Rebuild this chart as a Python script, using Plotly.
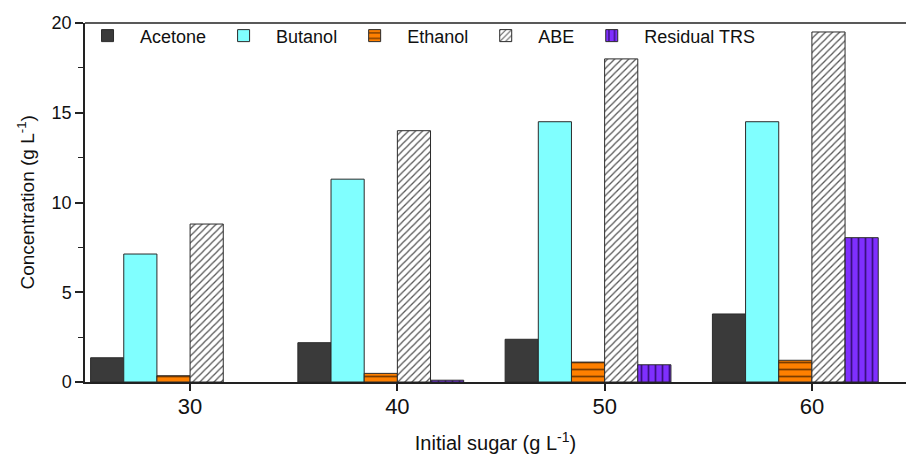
import plotly.graph_objects as go

sugar = [30, 40, 50, 60]
acetone = [1.35, 2.19, 2.38, 3.79]
butanol = [7.13, 11.3, 14.5, 14.5]
ethanol = [0.35, 0.48, 1.11, 1.21]
abe = [8.8, 14.0, 18.0, 19.5]
residual_trs = [None, 0.1, 0.96, 8.04]

series = [
    ("Acetone", acetone, "#3a3a3a", "", "#3a3a3a"),
    ("Butanol", butanol, "#80ffff", "", "#80ffff"),
    ("Ethanol", ethanol, "#ff8000", "-", "#7a3c00"),
    ("ABE", abe, "#ffffff", "/", "#555555"),
    ("Residual TRS", residual_trs, "#7f2fff", "|", "#3a1080"),
]

w = 1.6
fig = go.Figure()
for i, (name, vals, col, shape, fg) in enumerate(series):
    pattern = dict(shape=shape)
    if shape:
        pattern = dict(shape=shape, fillmode="replace", bgcolor=col, fgcolor=fg,
                       size=7 if shape != "/" else 5, solidity=0.25)
    fig.add_trace(go.Bar(
        x=sugar, y=vals, name=name, width=w, offset=(i - 3) * w,
        marker=dict(color=col, line=dict(color="#2b2b2b", width=1), pattern=pattern),
    ))

font = "Liberation Sans, Arial, sans-serif"
fig.add_shape(type="line", xref="paper", yref="paper", x0=0, x1=1, y0=1, y1=1,
              line=dict(color="#222", width=1.5))
fig.add_annotation(text="Concentration (g L<sup>-1</sup>)", textangle=-90,
                   xref="paper", yref="paper", x=-0.073, y=0.5,
                   xanchor="center", yanchor="middle", showarrow=False,
                   font=dict(size=19, family=font, color="#111"))
fig.update_layout(
    width=906, height=454,
    margin=dict(l=85, r=0, t=23, b=72, autoexpand=False),
    barmode="overlay",
    plot_bgcolor="white", paper_bgcolor="white",
    font=dict(family=font, color="#111"),
    showlegend=True,
    legend=dict(orientation="h", xref="container", x=0.0828, y=0.964,
                xanchor="left", yanchor="middle",
                font=dict(size=18, family=font), bgcolor="rgba(0,0,0,0)",
                itemwidth=55, tracegroupgap=0),
    xaxis=dict(range=[24.93, 64.54], tickvals=sugar, ticktext=[str(s) for s in sugar],
               ticks="outside", ticklen=7, tickwidth=1.5, tickcolor="#222",
               showline=True, linecolor="#222", linewidth=1.5, mirror=False,
               showgrid=False, zeroline=False, ticklabelstandoff=-3,
               tickfont=dict(size=22, family=font),
               title=dict(text="Initial sugar (g L<sup>-1</sup>)", font=dict(size=20, family=font), standoff=21)),
    yaxis=dict(range=[0, 20], tickvals=[0, 5, 10, 15, 20],
               ticks="outside", ticklen=8, tickwidth=1.5, tickcolor="#222",
               minor=dict(tickvals=[2.5, 7.5, 12.5, 17.5], ticks="outside", ticklen=5, tickcolor="#222", tickwidth=1.2),
               showline=True, linecolor="#222", linewidth=1.5, mirror=False,
               showgrid=False, zeroline=False,
               tickfont=dict(size=18, family=font)),
)
fig.write_html("out.html")
